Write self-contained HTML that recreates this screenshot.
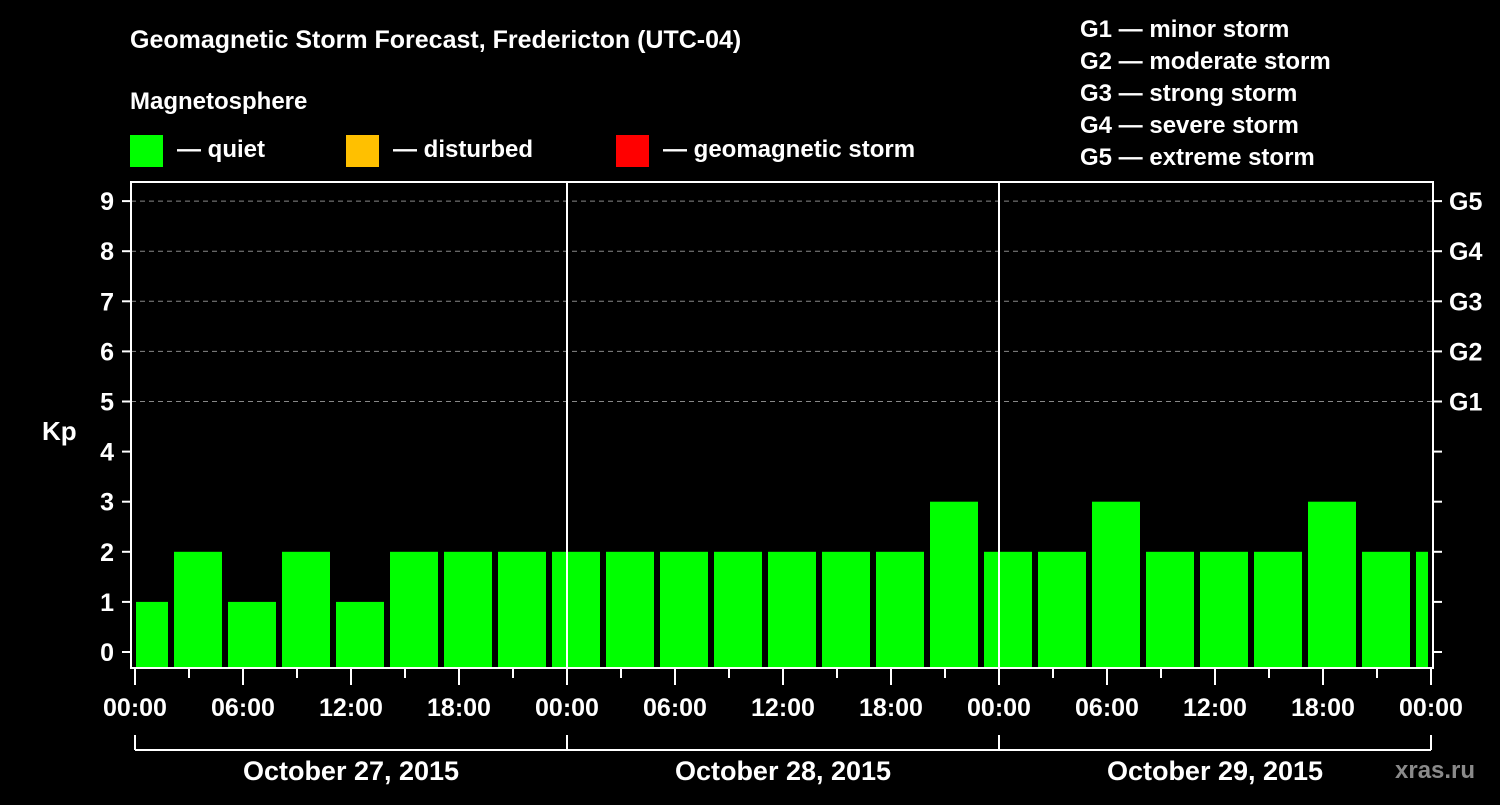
<!DOCTYPE html>
<html><head><meta charset="utf-8"><style>
html,body{margin:0;padding:0;background:#000;}
svg text{font-family:"Liberation Sans",Arial,sans-serif;font-weight:bold;fill:#fff;}
</style></head><body>
<svg id="c" width="1500" height="800" xmlns="http://www.w3.org/2000/svg">
<rect width="1500" height="800" fill="#000"/>
<text x="130" y="48" font-size="25">Geomagnetic Storm Forecast, Fredericton (UTC-04)</text>
<text x="130" y="109" font-size="24">Magnetosphere</text>
<rect x="130" y="135" width="33" height="32" fill="#00ff00"/>
<text x="177" y="157" font-size="24">— quiet</text>
<rect x="346" y="135" width="33" height="32" fill="#ffc000"/>
<text x="393" y="157" font-size="24">— disturbed</text>
<rect x="616" y="135" width="33" height="32" fill="#ff0000"/>
<text x="663" y="157" font-size="24">— geomagnetic storm</text>
<g font-size="24">
<text x="1080" y="37">G1 — minor storm</text>
<text x="1080" y="69">G2 — moderate storm</text>
<text x="1080" y="101">G3 — strong storm</text>
<text x="1080" y="133">G4 — severe storm</text>
<text x="1080" y="165">G5 — extreme storm</text>
</g>
<text x="42" y="440" font-size="26">Kp</text>
<text x="1395" y="778" font-size="24" fill="#888" style="fill:#8a8a8a">xras.ru</text>
<g id="grid"></g><g id="bars"></g><g id="axes"></g>
</svg>
<script>
const kpValues=[1,2,1,2,1,2,2,2,2,2,2,2,2,2,2,3,2,2,3,2,2,2,3,2,2];
const startHour=-1;
const yTicks=[0,1,2,3,4,5,6,7,8,9];
const gLabels=["G1","G2","G3","G4","G5"];
const gLevels=[5,6,7,8,9];
const dayLabels=["October 27, 2015","October 28, 2015","October 29, 2015"];
const hourLabels=["00:00","06:00","12:00","18:00"];
const NS="http://www.w3.org/2000/svg";
const X0=135,PXH=18,L=131,R=1433,T=182,B=668;
const x=h=>X0+h*PXH;
const y=v=>652-v*50.1;
function mk(p,tag,a){const e=document.createElementNS(NS,tag);for(const k in a)e.setAttribute(k,a[k]);p.appendChild(e);return e;}
const grid=document.getElementById('grid'),bars=document.getElementById('bars'),axes=document.getElementById('axes');
yTicks.forEach(v=>{
 if(v>=5){const g=mk(grid,'line',{x1:L,x2:R,y1:y(v),y2:y(v),stroke:'#888','stroke-dasharray':'5,4','stroke-width':1});
 
 }
 const t=mk(axes,'line',{x1:122,x2:L,y1:y(v),y2:y(v),stroke:'#fff','stroke-width':2});
 
 
 const t2=mk(axes,'line',{x1:R,x2:1442,y1:y(v),y2:y(v),stroke:'#fff','stroke-width':2});
 
 
 const lb=mk(axes,'text',{x:114,y:y(v)+9,'font-size':25,'text-anchor':'end'});lb.textContent=v;
 
 
});
gLevels.forEach((v,i)=>{const lb=mk(axes,'text',{x:1449,y:y(v)+9,'font-size':25});lb.textContent=gLabels[i];
 
 });
kpValues.forEach((v,i)=>{
 let h0=startHour+i*3,h1=h0+3;
 let a=x(h0)+3,b=x(h1)-3;
 if(h0<0)a=x(0)+1; if(h1>72)b=x(72)-3;
 const r=mk(bars,'rect',{x:a,y:y(v),width:b-a,height:B-y(v),fill:v>=5?'#ff0000':(v>=4?'#ffc000':'#00ff00')});
 
 
});
[1,2].forEach(d=>{const l=mk(axes,'line',{x1:x(d*24),x2:x(d*24),y1:T,y2:B,stroke:'#fff','stroke-width':2});
 
 });
const fr=mk(axes,'rect',{x:L,y:T,width:R-L,height:B-T,fill:'none',stroke:'#fff','stroke-width':2});


for(let h=0;h<=72;h+=3){
 const maj=h%6===0;
 const t=mk(axes,'line',{x1:x(h),x2:x(h),y1:B,y2:maj?685:678,stroke:'#fff','stroke-width':2});
 
 
 if(maj){const lb=mk(axes,'text',{x:x(h),y:716,'font-size':25,'text-anchor':'middle'});lb.textContent=hourLabels[(h/6)%4];
 
 }
}
const br=mk(axes,'line',{x1:x(0),x2:x(72),y1:750,y2:750,stroke:'#fff','stroke-width':2});


for(let d=0;d<=3;d++){const l=mk(axes,'line',{x1:x(d*24),x2:x(d*24),y1:735,y2:750,stroke:'#fff','stroke-width':2});
 
 }
dayLabels.forEach((s,d)=>{const lb=mk(axes,'text',{x:x(d*24+12),y:780,'font-size':27,'text-anchor':'middle'});lb.textContent=s;
 
 });
</script>
</body></html>
